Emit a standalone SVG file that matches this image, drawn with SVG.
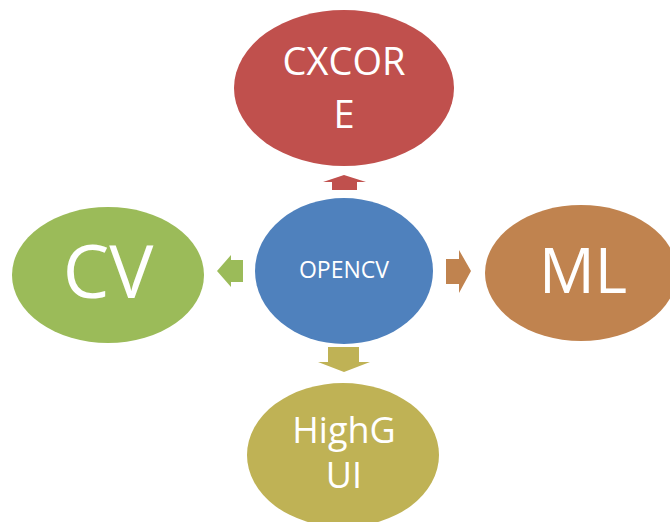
<svg xmlns="http://www.w3.org/2000/svg" width="670" height="522" viewBox="0 0 670 522">
<style>
text{font-family:"Open Sans","Liberation Sans",sans-serif;fill:#fff;text-anchor:middle}
</style>
<rect width="670" height="522" fill="#fff"/>
<g id="connectors">
<polygon fill="#C0504D" points="344,175 366,182 357,182 357,190 332,190 332,182 323,182"/>
<polygon fill="#9BBB59" points="217,271 231,255 231,260 243,260 243,282 231,282 231,287"/>
<polygon fill="#C0834F" points="471,271 459,250 459,259 446,259 446,284 459,284 459,293"/>
<polygon fill="#BFB255" points="344,372 370,362 359,362 359,347 328,347 328,362 318,362"/>
</g>
<g id="cxcore">
<ellipse cx="344" cy="88" rx="110" ry="78" fill="#C0504D"/>
<text x="344" y="75" font-size="38">CXCOR</text>
<text x="344" y="128" font-size="38">E</text>
</g>
<g id="opencv">
<ellipse cx="344" cy="271" rx="89" ry="73" fill="#4F81BD"/>
<text x="344" y="278" font-size="23">OPENCV</text>
</g>
<g id="cv">
<ellipse cx="108" cy="275" rx="96" ry="68" fill="#9BBB59"/>
<text x="108" y="298" font-size="74">CV</text>
</g>
<g id="ml">
<ellipse cx="581" cy="273" rx="96" ry="68" fill="#C0834F"/>
<text x="583" y="293" font-size="62">ML</text>
</g>
<g id="highgui">
<ellipse cx="343" cy="455" rx="96" ry="72" fill="#BFB255"/>
<text x="344" y="443" font-size="36">HighG</text>
<text x="344" y="488" font-size="36">UI</text>
</g>
</svg>
